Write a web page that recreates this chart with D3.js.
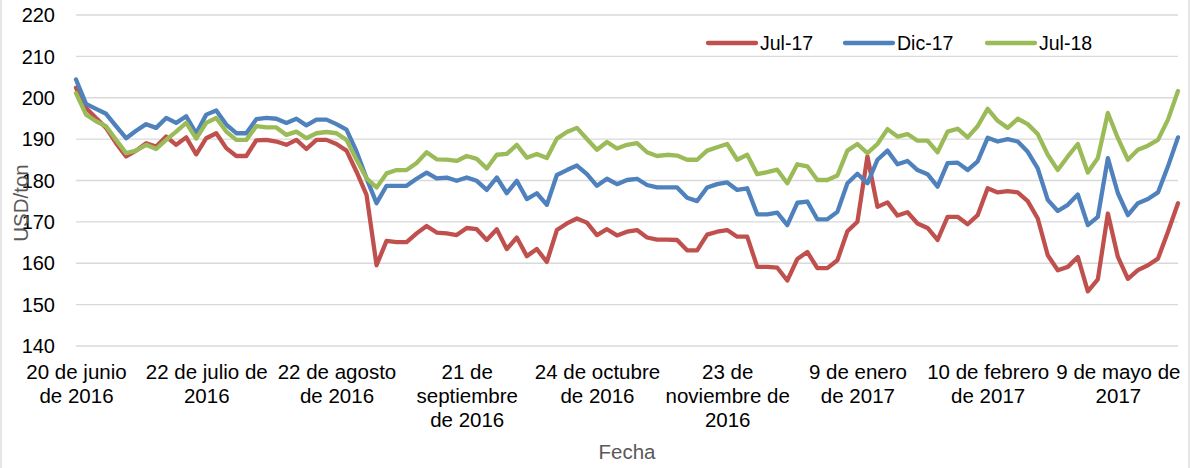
<!DOCTYPE html>
<html>
<head>
<meta charset="utf-8">
<script src="https://cdn.jsdelivr.net/npm/d3@7"></script>
<style>
  body { margin: 0; background: #fff; }
  svg { display: block; font-family: "Liberation Sans", Arial, sans-serif; }
</style>
</head>
<body>
<svg id="chart" width="1191" height="468"></svg>
<script>
// weekly prices, USD/ton
const jul17 = [202.3,197.4,195,192.6,188.9,185.7,187.1,188.9,188.1,190.5,188.5,190.3,186.2,190.1,191.3,187.7,185.8,185.8,189.6,189.7,
  189.3,188.5,189.7,187.5,189.7,189.7,188.7,187.1,182,176.4,159.4,165.3,165,165,167.1,168.9,167.3,167.1,166.7,168.4,
  168.1,165.5,168.1,163.3,166.1,161.6,163.3,160.2,167.9,169.5,170.7,169.7,166.7,168.1,166.6,167.5,167.9,166.1,165.6,165.6,
  165.5,163,163,166.8,167.5,167.9,166.3,166.3,159,159,158.8,155.7,160.9,162.6,158.7,158.7,160.6,167.6,169.9,185.7,
  173.5,174.6,171.4,172.2,169.5,168.4,165.5,171.1,171.1,169.3,171.5,178,177,177.3,177,174.9,170.7,161.8,158.2,159,
  161.4,153.1,156,171.9,161.4,156.1,158.2,159.4,161,167.5,174.4];
const dic17 = [204.3,198.4,197.2,196,193,190.1,191.9,193.5,192.6,195,193.8,195.4,191.3,195.8,196.8,193.4,191.3,191.3,194.7,195,
  194.8,193.8,194.8,193.2,194.6,194.6,193.5,192.2,186.9,180.4,174.4,178.6,178.6,178.6,180.3,181.8,180.4,180.6,179.8,180.6,
  179.8,177.6,180.6,176.8,179.8,175.4,176.8,174,181.2,182.4,183.5,181.4,178.6,180.3,179,180,180.3,178.8,178.2,178.2,
  178.2,175.7,174.9,178.2,179,179.4,177.6,178,171.7,171.7,172.1,169.1,174.5,174.8,170.5,170.5,172.3,179.2,181.5,179.2,
  184.9,187.1,183.8,184.6,182.4,181.4,178.4,184.1,184.2,182.4,184.5,190.2,189.3,189.9,189.3,186.8,182.8,175.2,172.5,174,
  176.5,169.1,171.1,185.3,176.8,171.5,174.4,175.4,177,183.3,190.3];
const jul18 = [201,195.8,194.2,193,189.7,186.5,187.1,188.5,187.5,189.7,191.7,193.8,190,193.8,195,191.7,189.7,189.7,193,192.7,
  192.7,190.9,191.7,190.1,191.3,191.6,191.3,189.7,184.9,180.4,178.2,181.6,182.4,182.4,184.1,186.7,185,184.9,184.6,185.8,
  185.1,182.8,186.1,186.3,188.5,185.4,186.3,185.3,190,191.6,192.6,189.9,187.3,189.2,187.6,188.5,188.9,186.7,185.8,186.1,
  185.9,184.9,184.9,187.1,187.9,188.7,184.9,186.1,181.4,181.9,182.5,179.2,183.8,183.3,180,180,181.1,187.1,188.7,186.5,
  188.7,192.3,190.5,191.1,189.5,189.5,186.7,191.7,192.4,190.3,193,197.2,194.3,192.6,194.8,193.5,191.1,186.1,182.4,185.7,
  188.7,181.8,185.3,196.2,190.1,184.9,187.3,188.3,189.7,194.6,201.5];

const seriesNames = ["Jul-17", "Dic-17", "Jul-18"];
const seriesColors = ["#C0504D", "#4F81BD", "#9BBB59"];
const seriesData = [jul17, dic17, jul18];

// category index of each shown label, and its wrapped lines
const tickIndex = [0, 13, 26, 39, 52, 65, 78, 91, 104];
const tickLabels = [
  ["20 de junio", "de 2016"],
  ["22 de julio de", "2016"],
  ["22 de agosto", "de 2016"],
  ["21 de", "septiembre", "de 2016"],
  ["24 de octubre", "de 2016"],
  ["23 de", "noviembre de", "2016"],
  ["9 de enero", "de 2017"],
  ["10 de febrero", "de 2017"],
  ["9 de mayo de", "2017"]
];
const yTicks = [140, 150, 160, 170, 180, 190, 200, 210, 220];

const svg = d3.select("#chart");
const fs = 20.5;

// chart area border
svg.append("rect")
  .attr("x", 1).attr("y", -2).attr("width", 1188).attr("height", 472)
  .attr("fill", "none").attr("stroke", "#d9d9d9").attr("stroke-width", 1.3);

const plotLeft = 76, plotRight = 1178, plotTop = 14.5, plotBottom = 345.5;

const x = d3.scaleLinear().domain([0, jul17.length - 1]).range([plotLeft, plotRight]);
const y = d3.scaleLinear().domain([140, 220]).range([plotBottom, plotTop]);

// y axis + gridlines
const yAxis = svg.append("g")
  .attr("transform", `translate(${plotLeft},0)`)
  .call(d3.axisLeft(y).tickValues(yTicks).tickSize(-(plotRight - plotLeft)).tickPadding(21));
yAxis.select(".domain").remove();
yAxis.selectAll(".tick line").attr("stroke", "#d9d9d9").attr("stroke-width", 1.3);
yAxis.selectAll(".tick text")
  .attr("font-size", 20).attr("font-family", "Liberation Sans, Arial, sans-serif")
  .attr("fill", "#000").attr("dy", "0.36em");

// x axis labels
const xAxis = svg.append("g")
  .attr("transform", `translate(0,${plotBottom})`)
  .call(d3.axisBottom(x).tickValues(tickIndex).tickSize(0).tickFormat(""));
xAxis.select(".domain").remove();
xAxis.selectAll(".tick").each(function(d, i) {
  const t = d3.select(this).append("text")
    .attr("fill", "#000")
    .attr("font-size", fs)
    .attr("font-family", "Liberation Sans, Arial, sans-serif")
    .attr("text-anchor", "middle");
  tickLabels[i].forEach((line, k) => {
    t.append("tspan").attr("x", 0).attr("y", 33.5 + k * 24).text(line);
  });
});

// axis titles
svg.append("text")
  .attr("transform", "translate(28,203) rotate(-90)")
  .attr("text-anchor", "middle")
  .attr("font-size", fs)
  .attr("fill", "#595959")
  .text("USD/ton");

svg.append("text")
  .attr("x", (plotLeft + plotRight) / 2).attr("y", 459)
  .attr("text-anchor", "middle")
  .attr("font-size", fs)
  .attr("fill", "#595959")
  .text("Fecha");

// lines
const line = d3.line().x((d, i) => x(i)).y(d => y(d));
seriesData.forEach((data, s) => {
  svg.append("path")
    .datum(data)
    .attr("fill", "none")
    .attr("stroke", seriesColors[s])
    .attr("stroke-width", 4.3)
    .attr("stroke-linejoin", "round")
    .attr("stroke-linecap", "round")
    .attr("d", line);
});

// legend
const legendX = [708, 845, 987];
seriesNames.forEach((name, s) => {
  const g = svg.append("g").attr("transform", `translate(${legendX[s]},43)`);
  g.append("line")
    .attr("x1", 0).attr("x2", 48).attr("y1", 0).attr("y2", 0)
    .attr("stroke", seriesColors[s]).attr("stroke-width", 4.3)
    .attr("stroke-linecap", "round");
  g.append("text")
    .attr("x", 52).attr("y", 7)
    .attr("font-size", 19.5).attr("fill", "#000")
    .text(name);
});
</script>
</body>
</html>
